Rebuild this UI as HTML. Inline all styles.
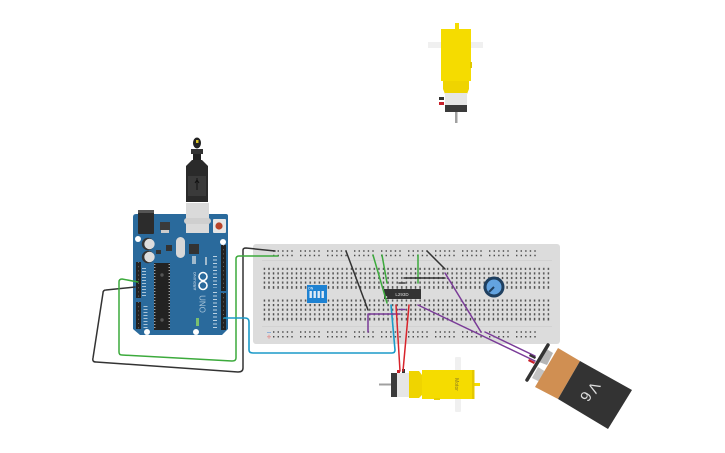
<!DOCTYPE html>
<html><head><meta charset="utf-8"><style>html,body{margin:0;padding:0;background:#fff;width:725px;height:453px;overflow:hidden}svg{display:block}text{font-family:"Liberation Sans",sans-serif}</style></head>
<body>
<svg width="725" height="453" viewBox="0 0 725 453" xmlns="http://www.w3.org/2000/svg">
<defs>
<pattern id="h" x="262.1" y="0" width="4.58" height="500" patternUnits="userSpaceOnUse"><rect x="1.6" y="0" width="1.4" height="500" fill="#4a4a4a"/></pattern>
</defs>

<!-- top motor -->
<g>
<rect x="455" y="23" width="4" height="7" fill="#f5dc00"/>
<rect x="428" y="42" width="55" height="6" fill="#f0f0f0"/>
<rect x="441" y="29" width="30" height="52" fill="#f5dc00"/>
<rect x="470" y="62" width="2" height="6" fill="#e0c800"/>
<path d="M443 81h26v8l-2 5h-22l-2-5z" fill="#efd400"/>
<rect x="445" y="93" width="22" height="19" fill="#e6e6e6"/>
<rect x="445" y="105" width="22" height="7" fill="#3a3a3a"/>
<rect x="455" y="112" width="2.5" height="11" fill="#a0a0a0"/>
<rect x="439" y="97" width="5" height="3" fill="#333"/>
<rect x="439" y="102" width="5" height="3" fill="#c8202a"/>
</g>

<!-- breadboard -->
<rect x="253" y="244" width="307" height="100" rx="3" fill="#dcdcdc"/>
<rect x="262" y="260" width="290" height="0.8" fill="#cfcfcf"/>
<rect x="262" y="326" width="290" height="0.8" fill="#cfcfcf"/>
<rect x="262" y="267.8" width="288" height="21" fill="url(#h)"/>
<rect x="262" y="299.5" width="288" height="21" fill="url(#h)"/>
<g fill="#dcdcdc">
<rect x="262" y="269.9" width="288" height="2.4"/><rect x="262" y="274.5" width="288" height="2.4"/><rect x="262" y="279.1" width="288" height="2.4"/><rect x="262" y="283.7" width="288" height="2.4"/>
<rect x="262" y="301.6" width="288" height="2.4"/><rect x="262" y="306.2" width="288" height="2.4"/><rect x="262" y="310.8" width="288" height="2.4"/><rect x="262" y="315.4" width="288" height="2.4"/>
</g>
<g fill="none" stroke="#4a4a4a" stroke-width="1.5" stroke-dasharray="1.4 3.18">
<path d="M273 251H294M300 251H321M327 251H348M354 251H375M381 251H402M408 251H429M435 251H456M462 251H483M489 251H510M516 251H537"/>
<path d="M273 255.5H294M300 255.5H321M327 255.5H348M354 255.5H375M381 255.5H402M408 255.5H429M435 255.5H456M462 255.5H483M489 255.5H510M516 255.5H537"/>
<path d="M273 332H294M300 332H321M327 332H348M354 332H375M381 332H402M408 332H429M435 332H456M462 332H483M489 332H510M516 332H537"/>
<path d="M273 336.7H294M300 336.7H321M327 336.7H348M354 336.7H375M381 336.7H402M408 336.7H429M435 336.7H456M462 336.7H483M489 336.7H510M516 336.7H537"/>
</g>
<path d="M267 332.5h4" stroke="#8fb0d8" stroke-width="1"/><path d="M267 336.7h4M269 334.7v4" stroke="#e09a9a" stroke-width="1"/>

<!-- DIP switch -->
<rect x="307" y="285" width="20" height="18" fill="#1e82d2"/>
<g fill="#dfeaf5"><rect x="309.5" y="291" width="2.4" height="7"/><rect x="313.5" y="291" width="2.4" height="7"/><rect x="317.5" y="291" width="2.4" height="7"/><rect x="321.5" y="291" width="2.4" height="7"/></g>
<text x="308" y="289.5" font-size="3.5" fill="#fff">ON</text>

<!-- IC -->
<rect x="384" y="289" width="37" height="10" fill="#333"/>
<circle cx="386.5" cy="297" r="0.8" fill="#fff"/>
<text x="402" y="296" font-size="4.5" fill="#ddd" text-anchor="middle">L293D</text>

<!-- potentiometer -->
<circle cx="494" cy="287" r="10.5" fill="#1f3f5f"/>
<circle cx="494" cy="287" r="7.5" fill="#63a3e0"/>
<path d="M494 287L489 292" stroke="#1f3f5f" stroke-width="2"/>

<!-- bottom motor -->
<g>
<rect x="455" y="357" width="6" height="55" rx="1" fill="#f0f0f0"/>
<rect x="473" y="383" width="7" height="3" fill="#f5dc00"/>
<rect x="422" y="370" width="52" height="29" fill="#f5dc00"/>
<rect x="472" y="370" width="2.5" height="29" fill="#e4c800"/>
<rect x="434" y="398" width="6" height="2" fill="#e8d000"/>
<path d="M409 371h10l3 4v20l-3 3h-10z" fill="#efd400"/>
<rect x="391" y="373" width="18" height="24" fill="#e6e6e6"/>
<rect x="391" y="373" width="6" height="24" fill="#3a3a3a"/>
<rect x="379" y="383.5" width="12" height="2" fill="#a0a0a0"/>
<rect x="397" y="370" width="3" height="3" fill="#c8202a"/>
<rect x="402" y="369" width="3" height="4" fill="#333"/>
<text transform="translate(455 384.5) rotate(90)" font-size="5" fill="#8a7a20" text-anchor="middle">Motor</text>
</g>

<!-- battery -->
<g>
<path d="M545 348L553 353L547 365L539 362Z" fill="#b5b5b5"/>
<path d="M538 367L546 372L540 382L532 378Z" fill="#c4c4c4"/>
<path d="M548 345L527 380" stroke="#333" stroke-width="3.5" stroke-linecap="round"/>
<path d="M558 348L580 361L558 399L535 387Z" fill="#d08f52"/>
<path d="M580 361L632 390L608 429L558 399Z" fill="#333"/>
<text transform="translate(587 397) rotate(-60)" font-size="15" fill="#ddd" text-anchor="middle" dominant-baseline="middle">9</text>
<text transform="translate(593 387) rotate(120)" font-size="15" fill="#ddd" text-anchor="middle" dominant-baseline="middle">V</text>
</g>

<!-- arduino -->
<g>
<path d="M136 214H226Q228 214 228 216V329L222 335H140L133 329V217Q133 214 136 214Z" fill="#2a6a9c"/>
<rect x="138" y="210" width="16" height="24" rx="1" fill="#2c2c2c"/>
<rect x="138" y="210" width="16" height="3" fill="#555"/>
<rect x="186" y="203" width="23" height="30" fill="#dadada"/>
<rect x="184" y="218" width="27" height="6" rx="3" fill="#cfcfcf"/>
<!-- USB cable -->
<path d="M192 160h10l6 6v36h-22v-36z" fill="#2a2a2a"/>
<rect x="191" y="149" width="12" height="5" fill="#333"/>
<rect x="193" y="154" width="8" height="6" fill="#222"/>
<ellipse cx="197" cy="143" rx="4" ry="5.5" fill="#222"/>
<rect x="196" y="140" width="2.5" height="3" fill="#d8c020"/>
<rect x="188" y="176" width="18" height="20" fill="#3a3a3a"/>
<path d="M197 178v12M195 183l2-3 2 3" stroke="#111" stroke-width="1" fill="none"/>
<rect x="213" y="219" width="13" height="14" rx="1" fill="#e6e6e6"/><circle cx="219" cy="226" r="3.6" fill="#b8442a"/>
<rect x="160" y="222" width="10" height="8" fill="#3a3a3a"/><rect x="161" y="230" width="8" height="3" fill="#ccc"/>
<circle cx="148" cy="244" r="6.2" fill="#333"/><circle cx="149.5" cy="244" r="5.2" fill="#ddd"/>
<circle cx="148" cy="257" r="6.2" fill="#333"/><circle cx="149.5" cy="257" r="5.2" fill="#ddd"/>
<circle cx="138" cy="239" r="3" fill="#fff"/><circle cx="223" cy="242" r="3" fill="#fff"/><circle cx="147" cy="332" r="3" fill="#fff"/><circle cx="196" cy="332" r="3" fill="#fff"/>
<rect x="176" y="237" width="9" height="21" rx="4.5" fill="#d8d8d8"/>
<rect x="189" y="244" width="10" height="10" fill="#333"/>
<rect x="166" y="245" width="6" height="6" fill="#333"/>
<rect x="156" y="250" width="5" height="4" fill="#333"/>
<rect x="154" y="263" width="16" height="67" fill="#222"/>
<circle cx="162" cy="275" r="1.7" fill="#555"/><circle cx="162" cy="320" r="1.7" fill="#555"/>
<path d="M154.8 264v65M169.2 264v65" stroke="#ddd" stroke-width="1" stroke-dasharray="1 2"/>
<rect x="136" y="262" width="5" height="36" fill="#222"/>
<rect x="136" y="302" width="5" height="27" fill="#222"/>
<rect x="221" y="245" width="5" height="46" fill="#222"/>
<rect x="221" y="293" width="5" height="37" fill="#222"/>
<path d="M138.5 262v36M138.5 302v27M223.5 245v46M223.5 293v37" stroke="#666" stroke-width="1" stroke-dasharray="1 3.2"/>
<g fill="none" stroke="#fff" stroke-width="1.6"><circle cx="203" cy="276.5" r="4"/><circle cx="203" cy="285.5" r="4"/></g>
<text transform="translate(199.5 304) rotate(90)" font-size="8" fill="#a9c4d8" text-anchor="middle">UNO</text>
<text transform="translate(196 281) rotate(-90)" font-size="4" fill="#dbe6ef" text-anchor="middle">ARDUINO</text>
<path d="M215 256v32M215 292v36" stroke="#bcd2e2" stroke-width="4" stroke-dasharray="1 2.5"/>
<path d="M144 268v28M145.5 306v22" stroke="#a9c4d8" stroke-width="4" stroke-dasharray="1 2"/>
<rect x="196" y="318" width="3" height="8" fill="#7ac070"/>
<path d="M193 256v8M195 256v8M206 257v8" stroke="#c9d5dc" stroke-width="1.5"/>
</g>

<!-- wires -->
<g fill="none" stroke-linecap="round" stroke-linejoin="round">
<path d="M135 287L106 290Q103 290 103 293L93 358Q92 362 96 362L238 372Q243 372 243 368L243 250Q243 248 246 248L275 251" stroke="#333" stroke-width="1.5"/>
<path d="M138 282L122 279Q119 279 119 282V352Q119 355 122 355L232 361Q236 361 236 358V259Q236 256 239 256H278" stroke="#3caa3c" stroke-width="1.5"/>
<path d="M224 318H245Q249 318 249 322V350Q249 353 253 353H392Q395 353 395 350L391 305" stroke="#1c9ac8" stroke-width="1.6"/>
<path d="M346 251L368 310" stroke="#333" stroke-width="1.5"/>
<path d="M373 255L387 303M382 255L387 283" stroke="#3caa3c" stroke-width="1.5"/>
<path d="M418 255V283" stroke="#3caa3c" stroke-width="1.5"/>
<path d="M427 251L445 269M404 278H445" stroke="#333" stroke-width="1.5"/>
<path d="M399 283H405" stroke="#444" stroke-width="1.5"/>
<path d="M445 273L481 332" stroke="#7a3b98" stroke-width="1.5"/>
<path d="M368 332V314H400M399 309.5H405" stroke="#7a3b98" stroke-width="1.5"/>
<path d="M418 305L535 361M485 332L535 356" stroke="#7a3b98" stroke-width="1.5"/>
<path d="M396 305L400 371M409 305L403 371" stroke="#d8242c" stroke-width="1.5"/>
</g>
<path d="M530 354l6 3-1 2-6-3z" fill="#333"/><path d="M529 359l6 3-1 2-6-3z" fill="#c8202a"/>
</svg>
</body></html>
